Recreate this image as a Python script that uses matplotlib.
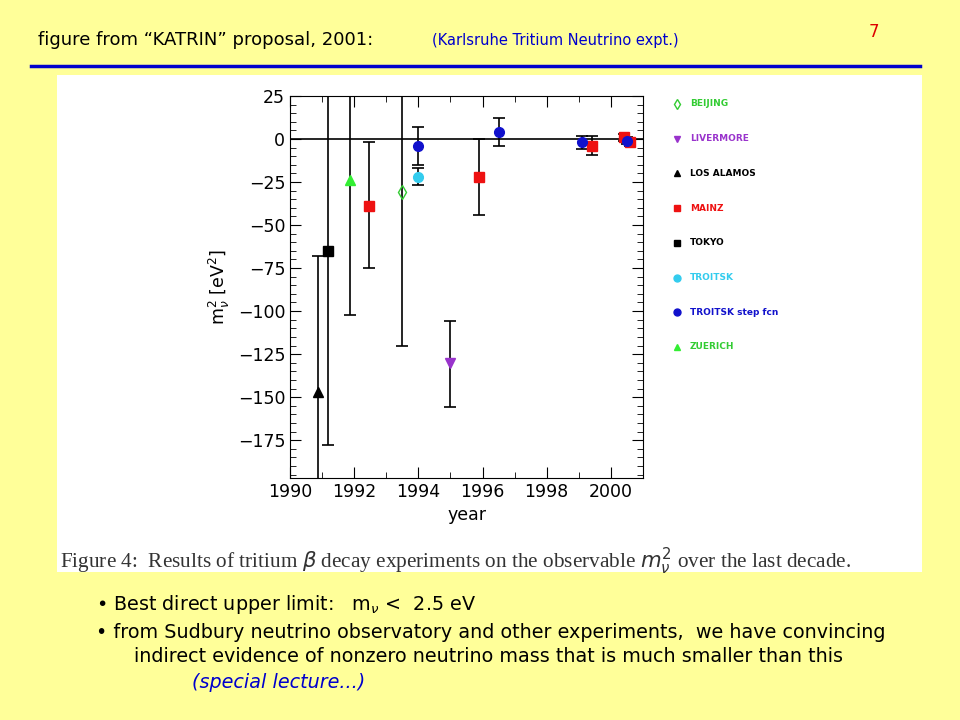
import matplotlib

matplotlib.use("Agg")
import matplotlib.pyplot as plt
from matplotlib.patches import Rectangle

# experiment data: year, m^2 value, lower error bound, upper error bound
beijing = dict(year=[1993.5], val=[-31], lo=[-120], hi=[40])
livermore = dict(year=[1995.0], val=[-130], lo=[-156], hi=[-106])
los_alamos = dict(year=[1990.88], val=[-147], lo=[-210], hi=[-68])
mainz = dict(year=[1992.47, 1995.9, 1999.4, 2000.4, 2000.6],
             val=[-39, -22, -4, 1, -2], lo=[-75, -44, -9, -1, -4], hi=[-2, 0, 2, 3, 0])
tokyo = dict(year=[1991.18], val=[-65], lo=[-178], hi=[40])
troitsk = dict(year=[1994.0], val=[-22], lo=[-27], hi=[-17])
troitsk_step = dict(year=[1994.0, 1996.5, 1999.1, 2000.5],
                    val=[-4, 4, -2, -1], lo=[-15, -4, -6, -3], hi=[7, 12, 2, 1])
zuerich = dict(year=[1991.87], val=[-24], lo=[-102], hi=[40])

series = [
    ("BEIJING", beijing, "d", "#33cc33", "none"),
    ("LIVERMORE", livermore, "v", "#9933cc", "#9933cc"),
    ("LOS ALAMOS", los_alamos, "^", "black", "black"),
    ("MAINZ", mainz, "s", "#ee1111", "#ee1111"),
    ("TOKYO", tokyo, "s", "black", "black"),
    ("TROITSK", troitsk, "o", "#33ccee", "#33ccee"),
    ("TROITSK step fcn", troitsk_step, "o", "#1111cc", "#1111cc"),
    ("ZUERICH", zuerich, "^", "#33ee33", "#33ee33"),
]

fig = plt.figure(figsize=(9.6, 7.2), dpi=100)
fig.patch.set_facecolor("#ffff99")

# header
fig.text(0.04, 0.938, "figure from \u201cKATRIN\u201d proposal, 2001:", fontsize=13)
fig.text(0.45, 0.938, "(Karlsruhe Tritium Neutrino expt.)", fontsize=10.5, color="#0000cc")
fig.text(0.905, 0.948, "7", fontsize=12, color="#dd0000")
fig.add_artist(plt.Line2D([0.032, 0.958], [0.909, 0.909], color="#0000cc", lw=2.5))

# white picture area
fig.add_artist(Rectangle((57 / 960, 1 - 572 / 720), 865 / 960, 497 / 720,
                         facecolor="white", edgecolor="none", zorder=0))

ax = fig.add_axes([290 / 960, 1 - 478 / 720, 353 / 960, 382 / 720])
for name, d, mk, col, fc in series:
    for x, v, lo, hi in zip(d["year"], d["val"], d["lo"], d["hi"]):
        ax.errorbar([x], [v], yerr=[[v - lo], [hi - v]], fmt="none", ecolor="black",
                    elinewidth=1.2, capsize=4, capthick=1.2)
    ax.plot(d["year"], d["val"], mk, color=col, mfc=fc, ms=7, zorder=3, ls="none")
ax.axhline(0, color="black", lw=1.2)
ax.set_xlim(1990, 2001)
ax.set_ylim(-197, 25)
ax.set_xticks(range(1990, 2001, 2))
ax.set_xticks(range(1990, 2002), minor=True)
ax.set_yticks(range(-175, 26, 25))
ax.set_yticks(range(-195, 26, 5), minor=True)
ax.tick_params(direction="in", labelsize=12.5, length=8, top=True, right=True)
ax.tick_params(which="minor", direction="in", length=4, top=True, right=True)
ax.set_xlabel("year", fontsize=12.5)
ax.set_ylabel(r"m$_\nu^2$ [eV$^2$]", fontsize=12.5)

# legend drawn as marker + label column
for i, (name, d, mk, col, fc) in enumerate(series):
    y = 1 - (104 + i * 34.7) / 720
    fig.add_artist(plt.Line2D([677 / 960], [y], marker=mk, color=col, mfc=fc, ms=5, ls="none"))
    fig.text(690 / 960, y, name, fontsize=6.5, fontweight="bold", color=col if col != "#33ee33" else "#33cc33",
             va="center")

fig.text(60 / 960, 1 - 561 / 720,
         r"Figure 4:  Results of tritium $\beta$ decay experiments on the observable $m_\nu^2$ over the last decade.",
         ha="left", va="center", fontsize=15.3, family="Liberation Serif", color="#333333")

# bullets
fs = 13.8
fig.text(0.10, 1 - 605 / 720, "\u2022 Best direct upper limit:   m$_\\nu$ <  2.5 eV", fontsize=fs, va="center")
fig.text(0.10, 1 - 632 / 720,
         "\u2022 from Sudbury neutrino observatory and other experiments,  we have convincing",
         fontsize=fs, va="center")
fig.text(0.14, 1 - 657 / 720,
         "indirect evidence of nonzero neutrino mass that is much smaller than this",
         fontsize=fs, va="center")
fig.text(0.20, 1 - 683 / 720, "(special lecture...)", fontsize=fs, va="center",
         color="#0000cc", style="italic")

fig.savefig("out.png", dpi=100, facecolor=fig.get_facecolor())
